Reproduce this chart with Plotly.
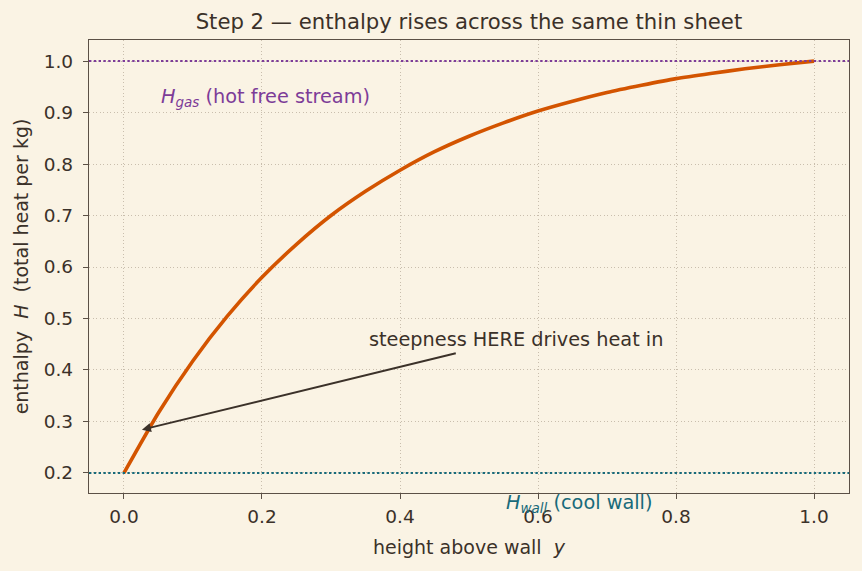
import plotly.graph_objects as go

# data
y_height = [0.0, 0.05, 0.1, 0.15, 0.2, 0.25, 0.3, 0.35, 0.4, 0.45, 0.5,
            0.55, 0.6, 0.65, 0.7, 0.75, 0.8, 0.85, 0.9, 0.95, 1.0]
H_enthalpy = [0.2, 0.317, 0.418, 0.505, 0.580, 0.644, 0.700, 0.747, 0.788, 0.824, 0.854,
              0.880, 0.903, 0.922, 0.939, 0.953, 0.966, 0.976, 0.985, 0.993, 1.0]
H_gas = 1.0
H_wall = 0.2
x_ticks = [0.0, 0.2, 0.4, 0.6, 0.8, 1.0]
y_ticks = [0.2, 0.3, 0.4, 0.5, 0.6, 0.7, 0.8, 0.9, 1.0]

BG = "#faf3e4"
FRAME = "#5b5046"
TEXT = "#3b3129"
ORANGE = "#d35400"
PURPLE = "#7d3c98"
TEAL = "#186a7a"
GRID = "#c9bead"
FONT = "DejaVu Sans"

fig = go.Figure()

fig.add_shape(type="line", xref="x domain", yref="y", x0=0, x1=1, y0=H_gas, y1=H_gas,
              line=dict(color=PURPLE, width=2, dash="2.4px,2.4px"))
fig.add_shape(type="line", xref="x domain", yref="y", x0=0, x1=1, y0=H_wall, y1=H_wall,
              line=dict(color=TEAL, width=2, dash="2.4px,2.4px"))

fig.add_trace(go.Scatter(x=y_height, y=H_enthalpy, mode="lines",
                         line=dict(color=ORANGE, width=3.6, shape="spline", smoothing=0.6),
                         showlegend=False, hoverinfo="skip"))

fig.add_annotation(x=0.0507, y=0.93, xref="x", yref="y", xanchor="left", yanchor="middle",
                   text="<i>H</i><sub><i>gas</i></sub> (hot free stream)", showarrow=False,
                   font=dict(family=FONT, size=19.3, color=PURPLE))
fig.add_annotation(x=0.550, y=-0.024, xref="x", yref="paper", xanchor="left", yanchor="middle",
                   text="<i>H</i><sub><i>wall</i></sub> (cool wall)", showarrow=False,
                   font=dict(family=FONT, size=19.3, color=TEAL))
fig.add_annotation(x=0.3515, y=0.4585, xref="x", yref="y", xanchor="left", yanchor="middle",
                   text="steepness HERE drives heat in", showarrow=False,
                   font=dict(family=FONT, size=19.3, color=TEXT))
fig.add_annotation(x=0.026, y=0.284, ax=0.483, ay=0.433, xref="x", yref="y",
                   axref="x", ayref="y", text="", showarrow=True,
                   arrowhead=2, arrowsize=0.9, arrowwidth=2, arrowcolor=TEXT)

axis_common = dict(showline=True, linecolor=FRAME, linewidth=1.3, mirror=True,
                   ticks="outside", ticklen=5, tickcolor=FRAME, tickwidth=1.2,
                   showgrid=True, gridcolor=GRID, griddash="1.3px,2.2px", gridwidth=1,
                   zeroline=False, tickfont=dict(family=FONT, size=18.5, color=TEXT))

fig.update_xaxes(range=[-0.0507, 1.0507], tickvals=x_ticks,
                 ticktext=[f"{v:.1f}" for v in x_ticks],
                 title=dict(text="height above wall\u00a0\u00a0<i>y</i>",
                            font=dict(family=FONT, size=19, color=TEXT), standoff=14),
                 ticklabelstandoff=2,
                 **axis_common)
fig.update_yaxes(range=[0.161, 1.041], tickvals=y_ticks,
                 ticktext=[f"{v:.1f}" for v in y_ticks],
                 title=dict(text="enthalpy\u00a0\u00a0<i>H</i>\u00a0\u00a0(total heat per kg)",
                            font=dict(family=FONT, size=19, color=TEXT), standoff=10),
                 ticklabelstandoff=6,
                 **axis_common)

fig.update_layout(
    width=862, height=571,
    margin=dict(l=89, r=13, t=40, b=78),
    paper_bgcolor=BG, plot_bgcolor=BG,
    title=dict(text="Step 2 \u2014 enthalpy rises across the same thin sheet",
               x=0.544, xanchor="center", y=0.9615, yanchor="middle",
               font=dict(family=FONT, size=21.2, color=TEXT)),
    showlegend=False,
)

fig.write_html("out.html")
